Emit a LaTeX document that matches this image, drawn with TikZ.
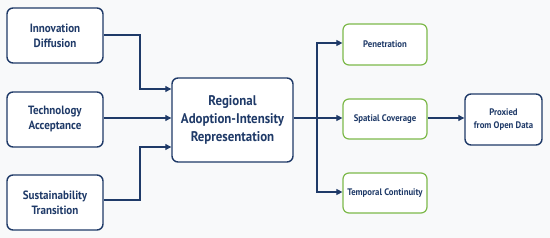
\documentclass[tikz,border=0pt]{standalone}
\usepackage{fontspec}
\setmainfont{PT Sans}[FakeStretch=0.92]
\usetikzlibrary{arrows.meta}
\definecolor{navy}{HTML}{1F3A68}
\definecolor{leaf}{HTML}{7DB94A}
\definecolor{bg}{HTML}{F8F9FA}
\begin{document}
\begin{tikzpicture}[x=1pt,y=-1pt,
  navybox/.style={draw=navy,line width=1.4pt,rounded corners=6pt,fill=white,text=navy,font=\bfseries\fontsize{12}{15}\selectfont,align=center,inner sep=0pt},
  greenbox/.style={draw=leaf,line width=1.2pt,rounded corners=6pt,fill=white,text=navy,font=\bfseries\fontsize{9.5}{11}\selectfont,align=center,inner sep=0pt},
  link/.style={draw=navy,line width=1.1pt,-{Triangle[length=6pt,width=6pt]}}]
\fill[bg] (0,0) rectangle (550,238);
\useasboundingbox (0,0) rectangle (550,238);
\node[navybox,minimum width=96pt,minimum height=55pt] (inno) at (55,35.5) {Innovation\\Diffusion};
\node[navybox,minimum width=96pt,minimum height=55pt] (tech) at (55,119.5) {Technology\\Acceptance};
\node[navybox,minimum width=96pt,minimum height=55pt] (sust) at (55,202.5) {Sustainability\\Transition};
\node[navybox,minimum width=121pt,minimum height=84pt,font=\bfseries\fontsize{14}{18}\selectfont] (reg) at (232.5,120) {Regional\\Adoption-Intensity\\Representation};
\node[greenbox,minimum width=84pt,minimum height=41pt] (pen) at (385,44.5) {Penetration};
\node[greenbox,minimum width=84pt,minimum height=40pt] (spa) at (385,119) {Spatial Coverage};
\node[greenbox,minimum width=84pt,minimum height=40pt] (tem) at (385,193) {Temporal Continuity};
\node[navybox,minimum width=77pt,minimum height=51pt,font=\bfseries\fontsize{9.5}{13}\selectfont] (prox) at (503.5,119.5) {Proxied\\from Open Data};
\coordinate (lj) at (140,0);
\coordinate (rj) at (317,0);
\draw[link] (inno.east |- 0,35) -| (lj |- 0,61) |- (reg.west |- 0,89);
\draw[link] (tech.east |- 0,118) -- (reg.west |- 0,118);
\draw[link] (sust.east |- 0,200) -| (lj |- 0,170) |- (reg.west |- 0,147);
\draw[link] (reg.east |- 0,118) -- (spa.west |- 0,118);
\draw[link] (rj |- 0,118) |- (pen.west |- 0,43);
\draw[link] (rj |- 0,118) |- (tem.west |- 0,192);
\draw[link] (spa.east |- 0,118) -- (prox.west |- 0,118);
\end{tikzpicture}
\end{document}
